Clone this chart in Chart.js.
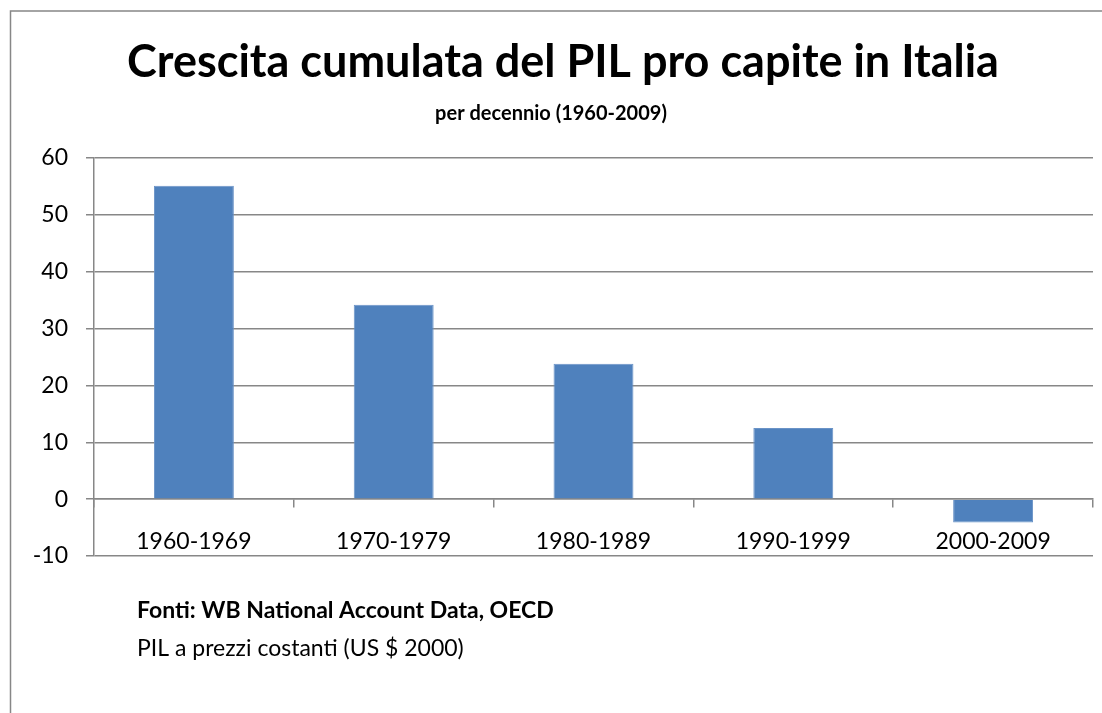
<!DOCTYPE html>
<html>
<head>
<meta charset="utf-8">
<script src="https://cdn.jsdelivr.net/npm/chart.js@4"></script>
<style>
  html, body { margin: 0; padding: 0; background: #fff; }
  #wrap { width: 1102px; height: 713px; position: relative; }
</style>
</head>
<body>
<div id="wrap"><canvas id="myChart"></canvas></div>
<script>
const decades = ['1960-1969', '1970-1979', '1980-1989', '1990-1999', '2000-2009'];
const growth = [55.1, 34.2, 23.8, 12.5, -4.1];
const titleText = 'Crescita cumulata del PIL pro capite in Italia';
const subtitleText = 'per decennio (1960-2009)';
const sourceText = 'Fonti: WB National Account Data, OECD';
const noteText = 'PIL a prezzi costanti (US $ 2000)';

const axisGray = '#878787';

// frame, title and notes drawn on the canvas
const decorations = {
    id: 'decorations',
    beforeDraw(chart) {
        const c = chart.ctx;
        c.save();
        c.strokeStyle = axisGray;
        c.lineWidth = 1.5;
        c.beginPath();
        c.moveTo(10.5, 713);
        c.lineTo(10.5, 11);
        c.lineTo(1102, 11);
        c.stroke();
        c.restore();
    },
    afterDraw(chart) {
        const c = chart.ctx;
        c.save();
        c.fillStyle = '#000';
        c.textAlign = 'center';
        c.textBaseline = 'alphabetic';
        c.font = 'bold 45px Lato';
        c.fillText(titleText, 563, 77);
        c.font = 'bold 20px Lato';
        c.fillText(subtitleText, 551, 120);
        c.textAlign = 'left';
        c.font = 'bold 23px Lato';
        c.fillText(sourceText, 137, 618);
        c.font = '23px Lato';
        c.fillText(noteText, 137, 656);
        c.restore();
    }
};

const ctx = document.getElementById('myChart').getContext('2d');

const myChart = new Chart(ctx, {
    type: 'bar',
    data: {
        labels: decades,
        datasets: [{
            data: growth,
            backgroundColor: '#4F81BD',
            borderColor: '#6a93c7',
            borderWidth: 1,
            barPercentage: 0.4,
            categoryPercentage: 1.0
        }]
    },
    options: {
        responsive: true,
        maintainAspectRatio: false,
        animation: false,
        layout: { padding: { top: 158, right: 9, bottom: 157, left: 0 } },
        plugins: {
            legend: { display: false },
            title: { display: false },
            tooltip: { enabled: false }
        },
        scales: {
            x: {
                position: { y: 0 },
                grid: { drawOnChartArea: false, drawTicks: true, tickLength: 8, color: axisGray, lineWidth: 1.5 },
                border: { display: true, color: axisGray, width: 1.5 },
                ticks: { color: '#000', font: { family: 'Lato', size: 23 }, padding: 21, maxRotation: 0 }
            },
            y: {
                min: -10,
                max: 60,
                afterFit(scale) { scale.width = 94; },
                grid: { color: axisGray, lineWidth: 1.5, tickLength: 8 },
                border: { display: true, color: axisGray, width: 1.5 },
                ticks: { stepSize: 10, color: '#000', font: { family: 'Lato', size: 23 }, padding: 18 }
            }
        }
    },
    plugins: [decorations]
});
</script>
</body>
</html>
